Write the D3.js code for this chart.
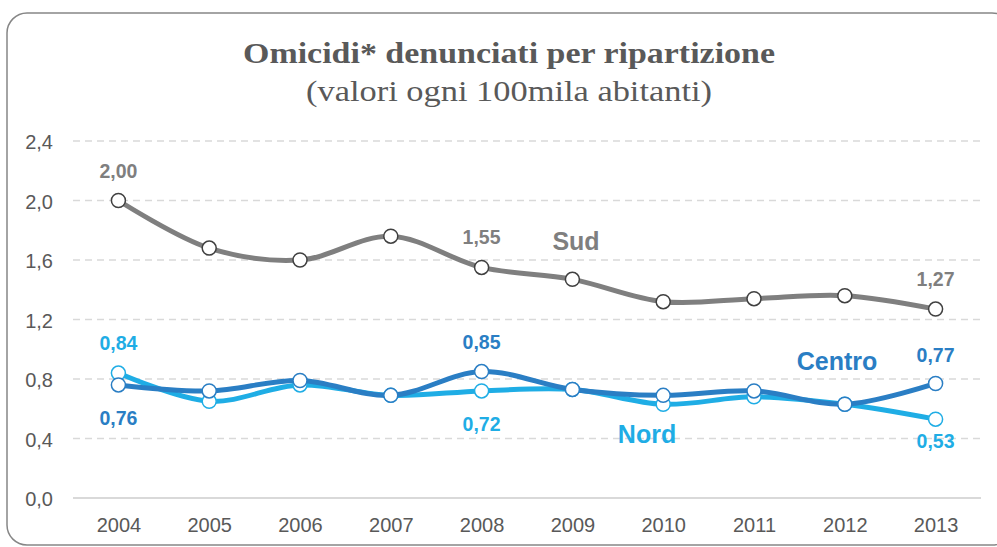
<!DOCTYPE html>
<html>
<head>
<meta charset="utf-8">
<script src="https://cdn.jsdelivr.net/npm/d3@7"></script>
<style>
  html, body { margin: 0; padding: 0; background: #fff; }
  svg { display: block; }
  .tick-label { font-family: "Liberation Sans", Arial, sans-serif; font-size: 20px; fill: #595959; }
  .val-label { font-family: "Liberation Sans", Arial, sans-serif; font-size: 19.5px; font-weight: bold; }
  .series-label { font-family: "Liberation Sans", Arial, sans-serif; font-size: 25px; font-weight: bold; }
</style>
</head>
<body>
<div id="chart"></div>
<script>
// anni
const years = ['2004', '2005', '2006', '2007', '2008', '2009', '2010', '2011', '2012', '2013']
// omicidi ogni 100mila abitanti
const sud = [2.00, 1.68, 1.60, 1.76, 1.55, 1.47, 1.32, 1.34, 1.36, 1.27]
const centro = [0.76, 0.72, 0.79, 0.69, 0.85, 0.73, 0.69, 0.72, 0.63, 0.77]
const nord = [0.84, 0.65, 0.76, 0.69, 0.72, 0.73, 0.63, 0.68, 0.63, 0.53]
const yTicks = [0, 0.4, 0.8, 1.2, 1.6, 2.0, 2.4]
// punti con etichetta
const sudLabelled = [0, 4, 9]
const centroLabelled = [0, 4, 9]
const nordLabelled = [0, 4, 9]

const W = 997, H = 547
const fmt = v => d3.format('.2f')(v).replace('.', ',')
const fmtTick = v => d3.format('.1f')(v).replace('.', ',')

const svg = d3.select('#chart').append('svg')
    .attr('width', W)
    .attr('height', H)

// cornice
svg.append('rect')
    .attr('x', 7).attr('y', 13)
    .attr('width', 1005).attr('height', 532)
    .attr('rx', 20).attr('ry', 20)
    .attr('fill', '#fff')
    .attr('stroke', '#868686')
    .attr('stroke-width', 1.5)

svg.append('text')
    .attr('x', 509).attr('y', 63)
    .attr('text-anchor', 'middle')
    .attr('textLength', 532)
    .attr('lengthAdjust', 'spacingAndGlyphs')
    .style('font-family', '"Liberation Serif", "DejaVu Serif", serif')
    .style('font-size', '30px')
    .style('font-weight', 'bold')
    .style('fill', '#595959')
    .text('Omicidi* denunciati per ripartizione')

svg.append('text')
    .attr('x', 509).attr('y', 101)
    .attr('text-anchor', 'middle')
    .attr('textLength', 406)
    .attr('lengthAdjust', 'spacingAndGlyphs')
    .style('font-family', '"Liberation Serif", "DejaVu Serif", serif')
    .style('font-size', '29px')
    .style('fill', '#595959')
    .text('(valori ogni 100mila abitanti)')

const x = d3.scalePoint().domain(years).range([73, 981]).padding(0.5)
const y = d3.scaleLinear().domain([0, 2.4]).range([498, 141])

// griglia
const grid = svg.append('g')
grid.selectAll('line')
    .data(yTicks)
    .enter()
    .append('line')
    .attr('x1', 73).attr('x2', 981)
    .attr('y1', d => y(d)).attr('y2', d => y(d))
    .attr('stroke', '#d9d9d9')
    .attr('stroke-width', d => d === 0 ? 2 : 1.5)
    .attr('stroke-dasharray', d => d === 0 ? null : '7,5')

const yAxis = svg.append('g')
    .attr('transform', 'translate(53,0)')
    .call(d3.axisLeft(y).tickValues(yTicks).tickFormat(fmtTick).tickSize(0).tickPadding(0))
yAxis.select('.domain').remove()
yAxis.selectAll('text').attr('class', 'tick-label').attr('dy', '0.38em').attr('fill', null)

const xAxis = svg.append('g')
    .attr('transform', 'translate(0,532)')
    .call(d3.axisBottom(x).tickSize(0).tickPadding(0))
xAxis.select('.domain').remove()
xAxis.selectAll('text').attr('class', 'tick-label').attr('dy', 0).attr('fill', null)

const series = [
    {name: 'Nord', values: nord, line: '#1fade5', dot: '#1fade5', labelled: nordLabelled},
    {name: 'Centro', values: centro, line: '#2a7ec4', dot: '#2a7ec4', labelled: centroLabelled},
    {name: 'Sud', values: sud, line: '#7f7f7f', dot: '#404040', labelled: sudLabelled}
]

const line = d3.line()
    .x((d, i) => x(years[i]))
    .y(d => y(d))
    .curve(d3.curveCatmullRom.alpha(0.5))

series.forEach(s => {
    const g = svg.append('g')
    g.append('path')
        .attr('d', line(s.values))
        .attr('fill', 'none')
        .attr('stroke', s.line)
        .attr('stroke-width', 5)
        .attr('stroke-linejoin', 'round')
    g.selectAll('circle')
        .data(s.values)
        .enter()
        .append('circle')
        .attr('cx', (d, i) => x(years[i]))
        .attr('cy', d => y(d))
        .attr('r', 7)
        .attr('fill', '#fff')
        .attr('stroke', s.dot)
        .attr('stroke-width', 1.5)
})

// etichette valori: sopra o sotto il punto
const labelOffset = {
    Sud: [-23, -23, -23],
    Centro: [40, -23, -21],
    Nord: [-23, 40, 29]
}
const labelColor = {Sud: '#7f7f7f', Centro: '#2a7ec4', Nord: '#1fade5'}
series.forEach(s => {
    svg.append('g').selectAll('text')
        .data(s.labelled)
        .enter()
        .append('text')
        .attr('class', 'val-label')
        .attr('text-anchor', 'middle')
        .attr('x', i => x(years[i]))
        .attr('y', (i, k) => y(s.values[i]) + labelOffset[s.name][k])
        .style('fill', labelColor[s.name])
        .text(i => fmt(s.values[i]))
})

// nomi serie
const seriesPos = {Sud: [576, 250], Centro: [837, 370], Nord: [647, 443]}
series.forEach(s => {
    svg.append('text')
        .attr('class', 'series-label')
        .attr('text-anchor', 'middle')
        .attr('x', seriesPos[s.name][0])
        .attr('y', seriesPos[s.name][1])
        .style('fill', labelColor[s.name])
        .text(s.name)
})
</script>
</body>
</html>
